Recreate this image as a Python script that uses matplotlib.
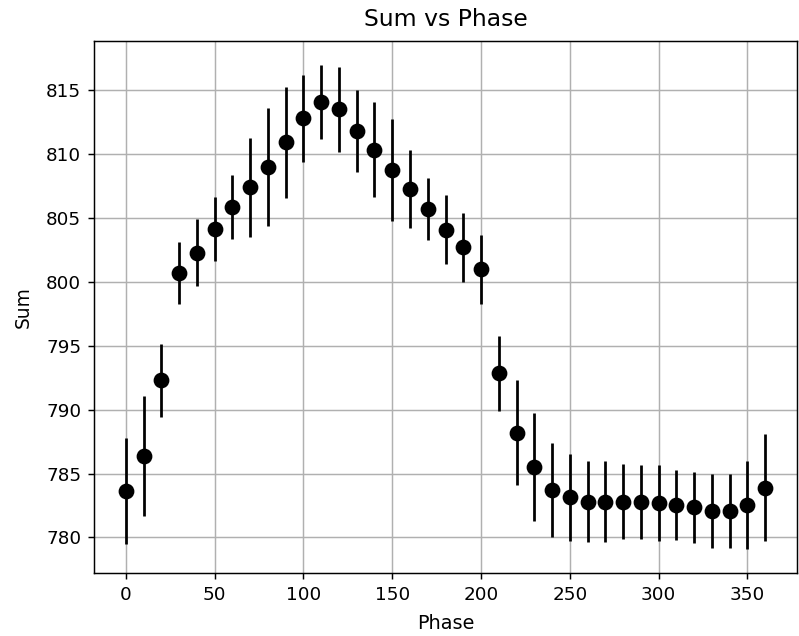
import matplotlib
matplotlib.use("Agg")
import matplotlib.pyplot as plt

phase = list(range(0, 370, 10))
sums = [783.6, 786.4, 792.3, 800.7, 802.3, 804.15, 805.85, 807.4, 808.97, 810.93,
        812.8, 814.06, 813.5, 811.8, 810.36, 808.77, 807.3, 805.7, 804.1, 802.7,
        801.0, 792.85, 788.2, 785.5, 783.7, 783.13, 782.8, 782.8, 782.8, 782.8,
        782.7, 782.56, 782.35, 782.04, 782.04, 782.56, 783.9]
errs = [4.15, 4.7, 2.85, 2.4, 2.6, 2.5, 2.5, 3.85, 4.6, 4.35,
        3.4, 2.9, 3.3, 3.2, 3.75, 4.0, 3.05, 2.4, 2.7, 2.7,
        2.7, 2.95, 4.1, 4.25, 3.7, 3.4, 3.15, 3.15, 2.95, 2.9,
        2.95, 2.75, 2.8, 2.9, 2.9, 3.45, 4.2]

DPI = 132
fig = plt.figure(figsize=(799 / DPI, 636 / DPI), dpi=DPI)
ax = fig.add_axes([94/799, 1-573/636, (797-94)/799, (573-41)/636])
ax.errorbar(phase, sums, yerr=errs, fmt='o', color='black', markersize=7.6,
            elinewidth=1.5, capsize=0)
ax.set_title("Sum vs Phase", fontsize=12.8, pad=8)
ax.set_xlabel("Phase", fontsize=10.5, labelpad=5.5)
ax.set_ylabel("Sum", fontsize=10.2, labelpad=7.5)
ax.grid(True)
fig.savefig("out.png", dpi=DPI)
